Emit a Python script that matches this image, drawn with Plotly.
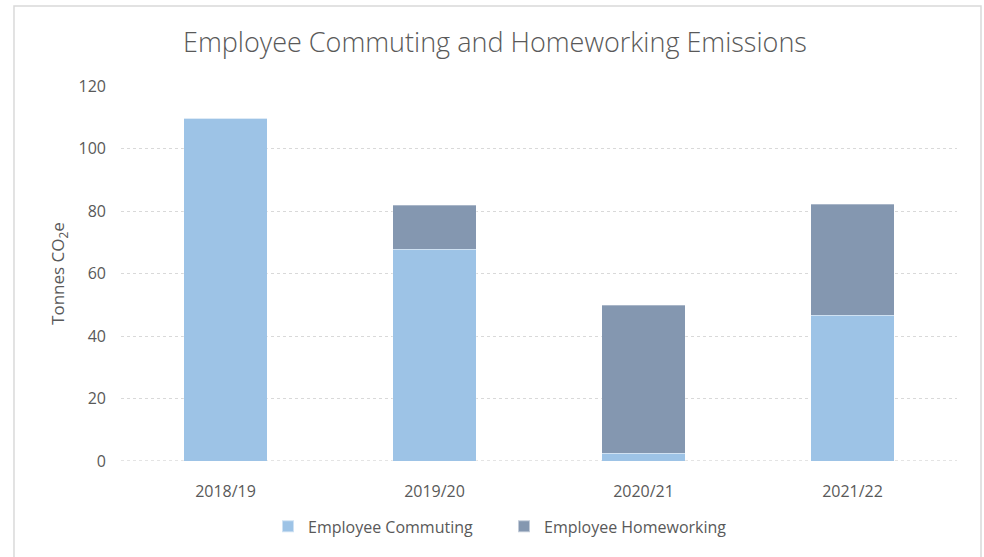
import plotly.graph_objects as go

years = ["2018/19", "2019/20", "2020/21", "2021/22"]
commuting = [109.7, 67.8, 2.5, 46.7]
homeworking = [0, 14.1, 47.4, 35.5]
yticks = [0, 20, 40, 60, 80, 100, 120]

font = "Open Sans"
grey = "#595959"

fig = go.Figure()
fig.add_trace(go.Bar(x=years, y=commuting, name="Employee Commuting",
                     marker=dict(color="#9DC3E6", line=dict(color="rgba(255,255,255,0.5)", width=0.6))))
fig.add_trace(go.Bar(x=years, y=homeworking, name="Employee Homeworking",
                     marker=dict(color="#8497B0", line=dict(color="rgba(255,255,255,0.5)", width=0.6))))

fig.update_layout(
    barmode="stack",
    bargap=0.6,
    width=984, height=557,
    margin=dict(l=121, r=27, t=86, b=96, autoexpand=False),
    paper_bgcolor="white", plot_bgcolor="white",
    font=dict(family=font, color=grey),
    title=dict(text="Employee Commuting and Homeworking Emissions",
               x=0.503, xref="container", xanchor="center",
               y=1 - 43 / 557, yref="container", yanchor="middle",
               font=dict(family=font, size=27, color=grey, weight=300)),
    showlegend=True,
    legend=dict(orientation="h", xref="container", x=268 / 984, xanchor="left",
                yref="container", y=0.055, yanchor="middle",
                font=dict(size=16, color=grey), traceorder="normal",
                entrywidth=191, entrywidthmode="pixels",
                itemsizing="constant"),
    shapes=[dict(type="rect", xref="paper", yref="paper",
                 x0=-0.128, x1=1.0287, y0=-0.27, y1=1.2133,
                 line=dict(color="#d9d9d9", width=1.5), fillcolor="rgba(0,0,0,0)",
                 layer="below"),
            dict(type="line", xref="paper", yref="y", x0=0, x1=1, y0=0, y1=0,
                 line=dict(color="#c8c8c8", width=1, dash="dot"), layer="below")],
)
fig.update_yaxes(range=[0, 120], tickvals=yticks, showgrid=True, automargin=False,
                 gridcolor="#d9d9d9", griddash="dot", gridwidth=1,
                 zeroline=False, showline=False, ticks="",
                 tickfont=dict(size=16, color=grey), ticklabelstandoff=14,
                 title=dict(text="Tonnes CO<sub>2</sub>e", font=dict(size=17, color=grey), standoff=9))
fig.update_xaxes(showgrid=False, showline=False, automargin=False,
                 ticks="", tickfont=dict(size=16, color=grey), ticklabelstandoff=19)

fig.write_html("out.html")
